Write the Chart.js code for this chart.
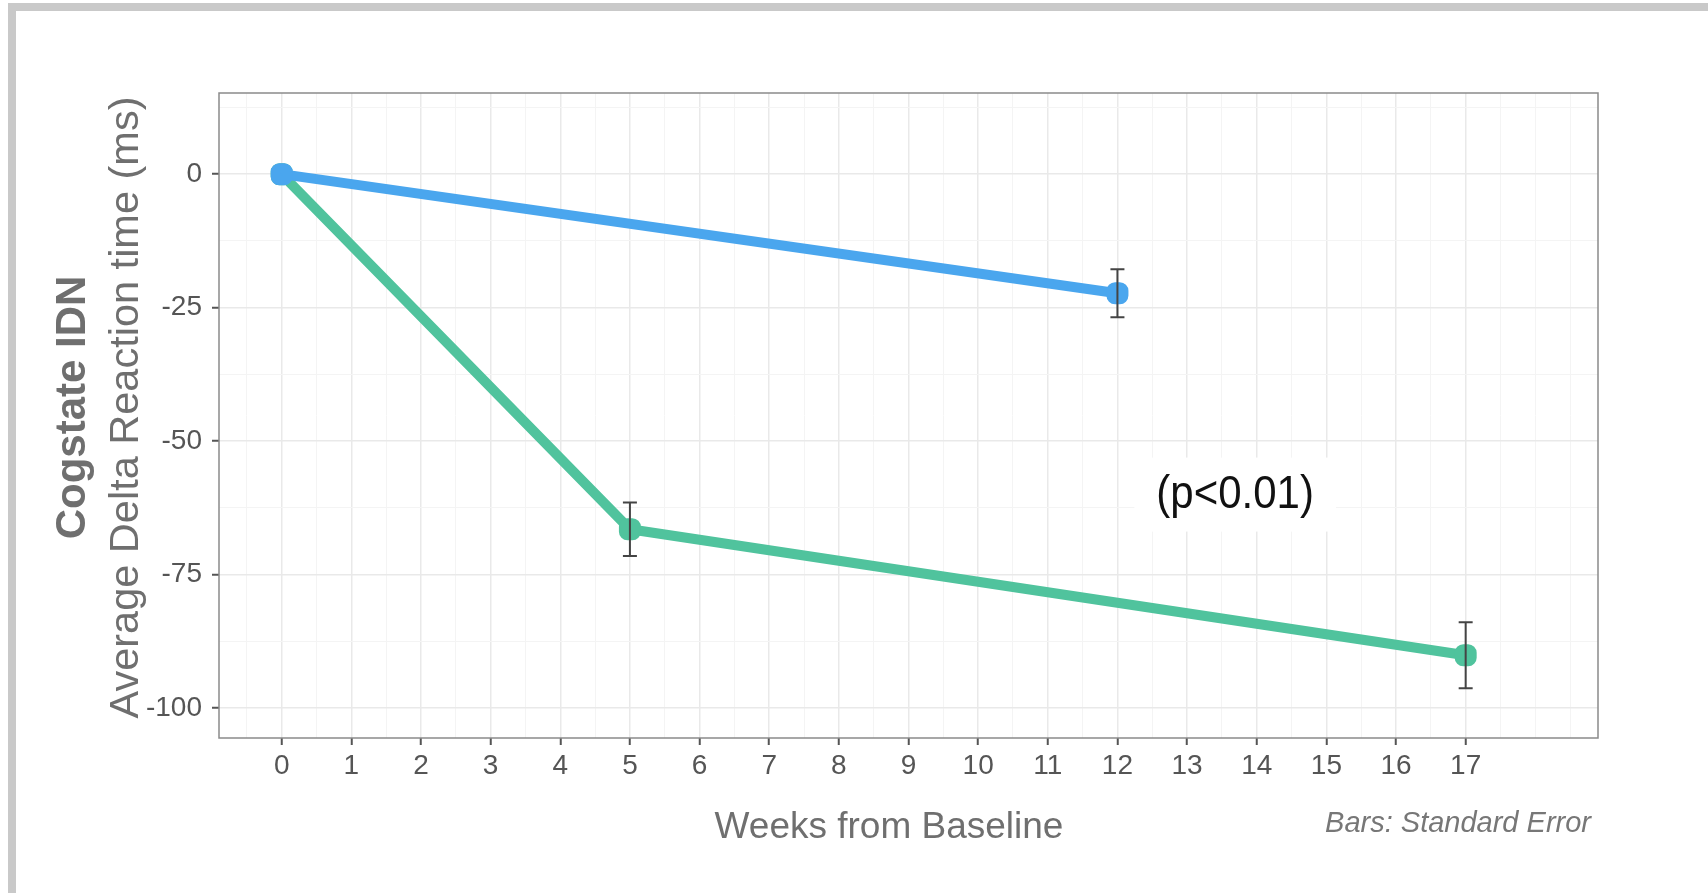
<!DOCTYPE html>
<html>
<head>
<meta charset="utf-8">
<script src="https://cdn.jsdelivr.net/npm/chart.js@4"></script>
<style>
    html, body { margin: 0; padding: 0; background: #ffffff; }
    #wrap { position: relative; width: 1708px; height: 893px; }
</style>
</head>
<body>
<div id="wrap"><canvas id="IdnChart" width="1708" height="893"></canvas></div>
<script>
// values
const blueWeeks = [0, 12];
const blueMean = [0, -22.3];
const blueSE = [0, 4.5];

const greenWeeks = [0, 5, 17];
const greenMean = [0, -66.5, -90.1];
const greenSE = [0, 5.0, 6.2];

// axis ticks (labelled) and half-step minor lines
const xTicks = [0, 1, 2, 3, 4, 5, 6, 7, 8, 9, 10, 11, 12, 13, 14, 15, 16, 17];
const xMinor = [-0.5, 0.5, 1.5, 2.5, 3.5, 4.5, 5.5, 6.5, 7.5, 8.5, 9.5, 10.5, 11.5, 12.5, 13.5, 14.5, 15.5, 16.5, 17.5, 18, 18.5];
const yTicks = [-100, -75, -50, -25, 0];
const yMinor = [-87.5, -62.5, -37.5, -12.5, 12.5];

const pLabel = "(p<0.01)";
const pLabelAt = { x: 13.69, y: -60.2 };

const FONT = "'Liberation Sans', Arial, sans-serif";

// build {x, y, se} points from the arrays
function toPoints(xs, ys, se) {
    return xs.map((x, i) => ({ x: x, y: ys[i], se: se[i] }));
}

function setTicks(major, minor) {
    return function (scale) {
        scale.ticks = major.concat(minor).sort((a, b) => a - b).map(v => ({ value: v }));
    };
}

// frame, panel border, error bars and all the extra text
const extras = {
    id: "extras",
    beforeDraw(chart) {
        const c = chart.ctx;
        c.save();
        c.fillStyle = "#c9c9c9";
        c.fillRect(8, 3, 1700, 8);
        c.fillRect(8, 3, 8, 890);
        c.restore();
    },
    afterDatasetsDraw(chart) {
        const c = chart.ctx;
        const xs = chart.scales.x;
        const ys = chart.scales.y;

        // p value label with white box
        c.save();
        c.font = "42px " + FONT;
        const px = xs.getPixelForValue(pLabelAt.x);
        const py = ys.getPixelForValue(pLabelAt.y);
        const w = c.measureText(pLabel).width;
        c.fillStyle = "#ffffff";
        c.fillRect(px - w / 2 - 22, py - 38, w + 44, 74);
        c.fillStyle = "#111111";
        c.textAlign = "center";
        c.textBaseline = "middle";
        c.translate(px, py);
        c.scale(1, 1.1);
        c.fillText(pLabel, 0, 0);
        c.restore();

        // standard error bars
        c.save();
        c.strokeStyle = "#444444";
        c.lineWidth = 2;
        chart.data.datasets.forEach(ds => {
            ds.data.forEach(p => {
                if (!p.se) return;
                const x = xs.getPixelForValue(p.x);
                const top = ys.getPixelForValue(p.y + p.se);
                const bot = ys.getPixelForValue(p.y - p.se);
                c.beginPath();
                c.moveTo(x, top); c.lineTo(x, bot);
                c.moveTo(x - 7, top); c.lineTo(x + 7, top);
                c.moveTo(x - 7, bot); c.lineTo(x + 7, bot);
                c.stroke();
            });
        });
        c.restore();
    },
    afterDraw(chart) {
        const c = chart.ctx;
        const a = chart.chartArea;
        c.save();
        c.strokeStyle = "#8a8a8a";
        c.lineWidth = 1.5;
        c.strokeRect(a.left, a.top, a.right - a.left, a.bottom - a.top);

        // x axis title
        c.fillStyle = "#6f6f6f";
        c.textAlign = "center";
        c.textBaseline = "middle";
        c.font = "37px " + FONT;
        c.fillText("Weeks from Baseline", 889, 828);

        // y axis title, two lines
        c.translate(0, (a.top + a.bottom) / 2 - 8);
        c.rotate(-Math.PI / 2);
        c.font = "bold 42px " + FONT;
        c.fillText("Cogstate IDN", 0, 73);
        c.font = "41.5px " + FONT;
        c.fillText("Average Delta Reaction time (ms)", 0, 127);
        c.restore();

        // caption
        c.save();
        c.fillStyle = "#777777";
        c.font = "italic 29px " + FONT;
        c.textAlign = "right";
        c.textBaseline = "alphabetic";
        c.fillText("Bars: Standard Error", 1591, 832);
        c.restore();
    }
};

const ctx = document.getElementById("IdnChart").getContext("2d");

new Chart(ctx, {
    type: "line",
    data: {
        datasets: [
            {
                label: "Blue",
                data: toPoints(blueWeeks, blueMean, blueSE),
                borderColor: "#4aa6ee",
                backgroundColor: "#4aa6ee",
                borderWidth: 10,
                pointStyle: "rectRounded",
                pointRadius: 7,
                pointHoverRadius: 7,
                tension: 0
            },
            {
                label: "Green",
                data: toPoints(greenWeeks, greenMean, greenSE),
                borderColor: "#50c39d",
                backgroundColor: "#50c39d",
                borderWidth: 10,
                pointStyle: "rectRounded",
                pointRadius: 7,
                pointHoverRadius: 7,
                tension: 0
            }
        ]
    },
    options: {
        responsive: false,
        animation: false,
        layout: { padding: { top: 93, right: 110, left: 0, bottom: 0 } },
        plugins: { legend: { display: false }, tooltip: { enabled: false } },
        scales: {
            x: {
                type: "linear",
                min: -0.9,
                max: 18.9,
                afterBuildTicks: setTicks(xTicks, xMinor),
                afterFit(scale) { scale.height = 155; },
                border: { display: false },
                grid: {
                    color: c => xTicks.includes(c.tick.value) ? "#e9e9e9" : "#f4f4f4",
                    lineWidth: c => xTicks.includes(c.tick.value) ? 1.5 : 1,
                    tickColor: c => xTicks.includes(c.tick.value) ? "#555555" : "rgba(0,0,0,0)",
                    tickLength: 7,
                    tickWidth: 2
                },
                ticks: {
                    autoSkip: false,
                    maxRotation: 0,
                    padding: 4,
                    color: "#555555",
                    font: { family: FONT, size: 28 },
                    callback: v => xTicks.includes(v) ? String(v) : ""
                }
            },
            y: {
                min: -105.6,
                max: 15.2,
                afterBuildTicks: setTicks(yTicks, yMinor),
                afterFit(scale) { scale.width = 219; },
                border: { display: false },
                grid: {
                    color: c => yTicks.includes(c.tick.value) ? "#e9e9e9" : "#f4f4f4",
                    lineWidth: c => yTicks.includes(c.tick.value) ? 1.5 : 1,
                    tickColor: c => yTicks.includes(c.tick.value) ? "#555555" : "rgba(0,0,0,0)",
                    tickLength: 7,
                    tickWidth: 2
                },
                ticks: {
                    autoSkip: false,
                    padding: 10,
                    color: "#555555",
                    font: { family: FONT, size: 28 },
                    callback: v => yTicks.includes(v) ? String(v) : ""
                }
            }
        }
    },
    plugins: [extras]
});
</script>
</body>
</html>
